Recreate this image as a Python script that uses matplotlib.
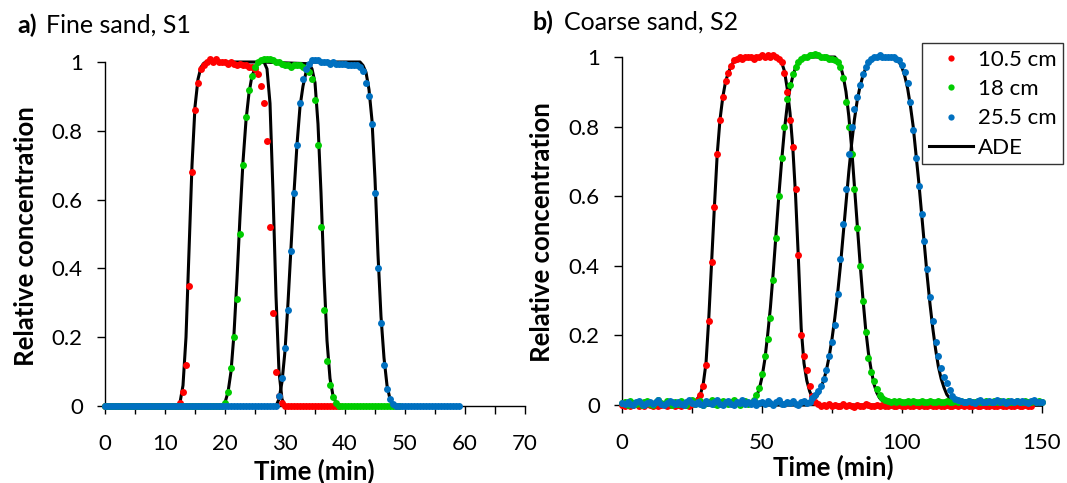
import numpy as np
import matplotlib
matplotlib.use("Agg")
import matplotlib.pyplot as plt
from matplotlib.lines import Line2D

plt.rcParams['font.family'] = ['Lato', 'DejaVu Sans']

# ---------------- data: panel a) Fine sand, S1 (sampled every 0.5 min) ----------------
step_a = 0.5
c_a_red = [0, 0, 0, 0, 0, 0, 0, 0, 0, 0, 0, 0, 0, 0, 0, 0, 0, 0, 0, 0, 0, 0, 0, 0,
           0.0, 0.01, 0.04, 0.12, 0.35, 0.68, 0.86, 0.94, 0.98, 0.99, 1.0, 1.01, 1.0, 1.01,
           1.0, 1.0, 1.0, 0.995, 1.0, 0.995, 0.99, 0.995, 0.99, 0.99, 0.985, 0.985, 0.98,
           0.965, 0.93, 0.88, 0.77, 0.52, 0.27, 0.1, 0.03, 0.01,
           0, 0, 0, 0, 0, 0, 0, 0, 0, 0, 0, 0, 0, 0, 0, 0, 0, 0, 0]

c_a_green = [0, 0, 0, 0, 0, 0, 0, 0, 0, 0, 0, 0, 0, 0, 0, 0, 0, 0, 0, 0,
             0, 0, 0, 0, 0, 0, 0, 0, 0, 0, 0, 0, 0, 0, 0, 0, 0, 0, 0, 0,
             0.01, 0.04, 0.11, 0.2, 0.31, 0.5, 0.7, 0.84, 0.92, 0.96, 0.985, 1.0, 1.005,
             1.01, 1.01, 1.01, 1.005, 1.0, 1.0, 0.995, 0.99, 0.99, 0.985, 0.99, 0.99, 0.99,
             0.985, 0.98, 0.97, 0.95, 0.89, 0.76, 0.52, 0.28, 0.13, 0.06, 0.025, 0.01,
             0, 0, 0, 0, 0, 0, 0, 0, 0, 0, 0, 0, 0, 0, 0, 0, 0, 0, 0, 0, 0]

c_a_blue = [0, 0, 0, 0, 0, 0, 0, 0, 0, 0, 0, 0, 0, 0, 0, 0, 0, 0, 0, 0,
            0, 0, 0, 0, 0, 0, 0, 0, 0, 0, 0, 0, 0, 0, 0, 0, 0, 0, 0, 0,
            0, 0, 0, 0, 0, 0, 0, 0, 0, 0, 0, 0, 0, 0, 0, 0, 0, 0,
            0.03, 0.08, 0.17, 0.28, 0.45, 0.62, 0.76, 0.88, 0.95, 0.98, 0.995, 1.005, 1.005,
            1.005, 1.0, 1.0, 1.0, 0.995, 1.0, 0.995, 0.995, 0.995, 0.995, 0.99, 0.99, 0.99,
            0.99, 0.985, 0.975, 0.94, 0.9, 0.82, 0.62, 0.4, 0.24, 0.12, 0.05, 0.02, 0.005,
            0, 0, 0, 0, 0, 0, 0, 0, 0, 0, 0, 0, 0, 0, 0, 0, 0, 0, 0, 0, 0, 0]

# ADE model curves, panel a
ade_a_red_t = [0, 12.0, 12.5, 13.0, 13.5, 14.0, 14.5, 15.0, 15.5, 16.0, 16.5, 17.0,
               26.5, 27.0, 27.5, 28.0, 28.5, 29.0, 29.5, 30.0, 39.0]
ade_a_red_c = [0, 0, 0.01, 0.06, 0.2, 0.45, 0.7, 0.87, 0.95, 0.985, 0.997, 1.0,
               1.0, 0.98, 0.88, 0.62, 0.32, 0.1, 0.02, 0, 0]
ade_a_green_t = [0, 19.5, 20.0, 20.5, 21.0, 21.5, 22.0, 22.5, 23.0, 23.5, 24.0, 24.5,
                 25.0, 25.5, 26.0, 34.0, 34.5, 35.0, 35.5, 36.0, 36.5, 37.0, 37.5,
                 38.0, 38.5, 39.0, 49.0]
ade_a_green_c = [0, 0, 0.01, 0.04, 0.1, 0.21, 0.37, 0.55, 0.71, 0.83, 0.91, 0.96,
                 0.98, 0.995, 1.0, 0.995, 0.98, 0.94, 0.82, 0.62, 0.38, 0.19, 0.08,
                 0.03, 0.01, 0, 0]
ade_a_blue_t = [0, 28.5, 29.0, 29.5, 30.0, 30.5, 31.0, 31.5, 32.0, 32.5, 33.0, 33.5,
                34.0, 34.5, 42.5, 43.0, 43.5, 44.0, 44.5, 45.0, 45.5, 46.0, 46.5,
                47.0, 47.5, 48.0, 59.0]
ade_a_blue_c = [0, 0, 0.02, 0.07, 0.16, 0.3, 0.46, 0.62, 0.76, 0.87, 0.93, 0.97,
                0.99, 1.0, 1.0, 0.99, 0.97, 0.92, 0.83, 0.66, 0.44, 0.26, 0.14,
                0.06, 0.02, 0, 0]

# ---------------- data: panel b) Coarse sand, S2 (sampled every 1 min) ----------------
step_b = 1.0
c_b_red = [0, -0.003, 0.002, -0.004, 0, 0.003, -0.002, 0, -0.004, 0.002, 0, -0.003, 0.004,
           -0.002, 0, 0.002, -0.004, 0, 0.003, -0.002, 0, -0.003, 0.002, 0, -0.002, 0.003,
           0.006, 0.015, 0.03, 0.055, 0.115, 0.24, 0.41, 0.57, 0.72, 0.82, 0.885, 0.93, 0.955,
           0.975, 0.99, 0.995, 1.0, 0.995, 1.0, 1.0, 1.0, 0.995, 1.0, 1.0, 1.005, 1.0, 1.005,
           1.0, 1.005, 1.0, 0.995, 0.985, 0.955, 0.9, 0.82, 0.74, 0.62, 0.43, 0.2, 0.14, 0.1,
           0.055, 0.025, 0.01, 0.004,
           -0.002, 0, -0.004, 0.002, -0.003, 0, -0.004, -0.002, 0.002, -0.004, 0, -0.003,
           -0.005, 0, -0.002, -0.004, 0.002, 0, -0.003, -0.004, 0, -0.002, 0.001, -0.004,
           -0.003, 0, -0.002, -0.004, 0, -0.003, -0.002, 0, -0.004, -0.002, 0.001, -0.003,
           0, -0.004, -0.002, 0, -0.003, -0.004, 0, -0.002, -0.003, 0, -0.004, -0.002, 0,
           -0.003, 0.001, -0.004, 0, -0.002, -0.003, 0, -0.004, -0.002, 0, -0.003, -0.002,
           0, -0.004, -0.003, 0, -0.002, -0.004, 0,
           -0.002, -0.004, 0, -0.003, -0.002, 0, -0.004, -0.002]

c_b_green = [0.005, 0.01, 0.0, 0.012, 0.006, 0.003, 0.01, 0.0, 0.008, 0.012, 0.004, 0.0,
             0.01, 0.014, 0.006, 0.002, 0.012, 0.008, 0.0, 0.01, 0.004, 0.012, 0.006, 0.0,
             0.01, 0.014, 0.004, 0.008, 0.012, 0.0, 0.006, 0.01, 0.014, 0.004, 0.0, 0.01,
             0.012, 0.006, 0.002, 0.01, 0.014, 0.006, 0.0, 0.008, 0.012, 0.004,
             0.005, 0.015, 0.03, 0.05, 0.09, 0.14, 0.19, 0.25, 0.36, 0.48, 0.6, 0.71, 0.8,
             0.88, 0.92, 0.95, 0.97, 0.985, 0.995, 1.0, 1.0, 1.005, 1.005, 1.01, 1.005, 1.0,
             1.0, 1.0, 0.995, 0.995, 0.99, 0.985, 0.97, 0.94, 0.87, 0.8, 0.72, 0.62, 0.51,
             0.4, 0.3, 0.21, 0.135, 0.095, 0.07, 0.045, 0.03, 0.02, 0.015,
             0.012, 0.01, 0.011, 0.009, 0.012, 0.01, 0.008, 0.011, 0.01, 0.012, 0.009, 0.01,
             0.011, 0.008, 0.01, 0.012, 0.01, 0.009, 0.011, 0.01, 0.008, 0.012, 0.01, 0.009,
             0.011, 0.01, 0.012, 0.008, 0.01, 0.011, 0.009, 0.01, 0.012, 0.01, 0.008, 0.011,
             0.01, 0.009, 0.012, 0.01, 0.011, 0.008, 0.01, 0.012, 0.009, 0.01, 0.011, 0.01,
             0.008, 0.012, 0.01, 0.009, 0.011, 0.01, 0.012, 0.01]

c_b_blue = [0.006, 0.002, 0.01, 0.004, 0.0, 0.008, 0.012, 0.004, 0.0, 0.006, 0.01, 0.002,
            0.008, 0.014, 0.004, 0.0, 0.006, 0.012, 0.008, 0.002, 0.01, 0.004, 0.0, 0.008,
            0.014, 0.006, 0.002, 0.01, 0.004, 0.0, 0.012, 0.006, 0.002, 0.01, 0.014, 0.004,
            0.0, 0.008, 0.012, 0.004, 0.0, 0.01, 0.006, 0.014, 0.002, 0.008, 0.004, 0.012,
            0.0, 0.006, 0.01, 0.004, 0.012, 0.006, 0.0, 0.008, 0.014, 0.004, 0.002, 0.01,
            0.006, 0.012, 0.004, 0.0, 0.008, 0.012, 0.006, 0.01,
            0.02, 0.03, 0.04, 0.055, 0.075, 0.1, 0.14, 0.18, 0.23, 0.32, 0.42, 0.52, 0.62,
            0.72, 0.8, 0.85, 0.885, 0.92, 0.95, 0.97, 0.985, 0.995, 1.0, 1.0, 1.005, 1.0, 1.0,
            1.0, 1.0, 1.0, 0.995, 0.99, 0.977, 0.957, 0.925, 0.87, 0.79, 0.71, 0.63, 0.55,
            0.47, 0.39, 0.31, 0.24, 0.18, 0.14, 0.105, 0.08, 0.062, 0.043, 0.025, 0.018, 0.014,
            0.012, 0.01, 0.008, 0.012, 0.01, 0.007, 0.011, 0.013, 0.009, 0.01, 0.012, 0.008,
            0.01, 0.013, 0.009, 0.011, 0.007, 0.01, 0.012, 0.009, 0.011, 0.008, 0.012, 0.01,
            0.007, 0.011, 0.013, 0.009, 0.01, 0.008]

# ADE model curves, panel b
ade_b_red_t = [0, 24, 26, 28, 29, 30, 31, 32, 33, 34, 35, 36, 37, 38, 39, 40, 41, 43,
               55, 56, 57, 58, 59, 60, 61, 62, 63, 64, 65, 66, 67, 68, 69, 71, 146]
ade_b_red_c = [0, 0, 0.008, 0.03, 0.06, 0.12, 0.25, 0.41, 0.57, 0.72, 0.82, 0.885, 0.93,
               0.955, 0.975, 0.988, 0.995, 1.0,
               1.0, 0.995, 0.985, 0.96, 0.91, 0.84, 0.74, 0.6, 0.42, 0.22, 0.12, 0.07, 0.04,
               0.02, 0.01, 0, 0]
ade_b_green_t = [0, 45, 47, 48, 49, 50, 51, 52, 53, 54, 55, 56, 57, 58, 59, 60, 61, 62,
                 63, 65, 67, 76, 77, 78, 79, 80, 81, 82, 83, 84, 85, 86, 87, 88, 89, 90,
                 91, 92, 94, 96, 150]
ade_b_green_c = [0, 0, 0.01, 0.025, 0.045, 0.08, 0.13, 0.2, 0.28, 0.38, 0.49, 0.6, 0.7,
                 0.79, 0.86, 0.91, 0.945, 0.97, 0.985, 0.997, 1.0, 1.0, 0.99, 0.975, 0.945,
                 0.9, 0.83, 0.74, 0.63, 0.52, 0.41, 0.31, 0.22, 0.15, 0.1, 0.06, 0.035, 0.02,
                 0.005, 0, 0]
ade_b_blue_t = [0, 66, 68, 70, 71, 72, 73, 74, 75, 76, 77, 78, 79, 80, 81, 82, 83, 84, 85,
                86, 87, 88, 90, 92, 97, 98, 99, 100, 101, 102, 103, 104, 105, 106, 107,
                108, 109, 110, 111, 112, 113, 114, 115, 116, 117, 118, 120, 123, 150]
ade_b_blue_c = [0, 0, 0.01, 0.03, 0.05, 0.07, 0.1, 0.14, 0.19, 0.25, 0.32, 0.4, 0.49, 0.58,
                0.67, 0.75, 0.82, 0.875, 0.915, 0.945, 0.967, 0.98, 0.995, 1.0, 1.0, 0.995,
                0.985, 0.97, 0.945, 0.91, 0.86, 0.8, 0.72, 0.64, 0.55, 0.46, 0.37, 0.29, 0.22,
                0.16, 0.11, 0.075, 0.05, 0.03, 0.02, 0.012, 0.005, 0, 0]

series_labels = ["10.5 cm", "18 cm", "25.5 cm", "ADE"]
colors = ["#FF0000", "#00CC00", "#0070C0"]

# ---------------- figure ----------------
W, H = 1067, 483
fig = plt.figure(figsize=(W / 100, H / 100), dpi=100)


def px_axes(x0, x1, ytop, ybot):
    return fig.add_axes([x0 / W, 1 - ybot / H, (x1 - x0) / W, (ybot - ytop) / H])


ax_a = px_axes(105, 525, 62, 406)
ax_b = px_axes(622, 1042, 57, 405)

FS_TICK = 16
FS_LAB = 18.5
FS_TITLE = 18
FS_LEG = 16
MS = 5.0
LW = 2.2


def style(ax, xmax, minor_step, label_step):
    ax.set_xlim(0, xmax)
    ax.set_ylim(0, 1)
    for s in ["top", "right"]:
        ax.spines[s].set_visible(False)
    for s in ["left", "bottom"]:
        ax.spines[s].set_linewidth(1.0)
        ax.spines[s].set_color("black")
        ax.spines[s].set_zorder(0.5)
    xt = np.arange(0, xmax + 0.01, minor_step)
    ax.set_xticks(xt)
    ax.set_xticklabels([f"{v:g}" if abs(v / label_step - round(v / label_step)) < 1e-9 else ""
                        for v in xt])
    ax.set_yticks([0, 0.2, 0.4, 0.6, 0.8, 1.0])
    ax.set_yticklabels(["0", "0.2", "0.4", "0.6", "0.8", "1"])
    ax.tick_params(axis="both", direction="out", length=6, width=1.0, labelsize=FS_TICK,
                   colors="black")
    ax.tick_params(axis="x", pad=14)
    ax.tick_params(axis="y", pad=10)
    ax.patch.set_alpha(0)


def draw(ax, step, dots, ades):
    for t, c in ades:
        ax.plot(t, c, color="black", lw=LW, zorder=2, clip_on=False, solid_capstyle="butt")
    for c, col in zip(dots, colors):
        t = np.arange(len(c)) * step
        ax.plot(t, c, "o", color=col, ms=MS, mew=0, zorder=3, clip_on=False)


draw(ax_a, step_a, [c_a_red, c_a_green, c_a_blue],
     [(ade_a_red_t, ade_a_red_c), (ade_a_green_t, ade_a_green_c), (ade_a_blue_t, ade_a_blue_c)])
draw(ax_b, step_b, [c_b_red, c_b_green, c_b_blue],
     [(ade_b_red_t, ade_b_red_c), (ade_b_green_t, ade_b_green_c), (ade_b_blue_t, ade_b_blue_c)])

style(ax_a, 70, 5, 10)
style(ax_b, 150, 25, 50)

# titles
fig.text(17 / W, 1 - 33 / H, "a)", fontsize=FS_TITLE, fontweight="bold", va="baseline", ha="left")
fig.text(46 / W, 1 - 33 / H, "Fine sand, S1", fontsize=FS_TITLE, va="baseline", ha="left")
fig.text(533 / W, 1 - 30 / H, "b)", fontsize=FS_TITLE, fontweight="bold", va="baseline", ha="left")
fig.text(564 / W, 1 - 30 / H, "Coarse sand, S2", fontsize=FS_TITLE, va="baseline", ha="left")

# axis labels
fig.text(26 / W, 1 - 236 / H, "Relative concentration", fontsize=FS_LAB, fontweight="bold",
         rotation=90, ha="center", va="center")
fig.text(542 / W, 1 - 232 / H, "Relative concentration", fontsize=FS_LAB, fontweight="bold",
         rotation=90, ha="center", va="center")
fig.text(314 / W, 1 - 480 / H, "Time (min)", fontsize=FS_LAB, fontweight="bold",
         ha="center", va="baseline")
fig.text(833 / W, 1 - 476 / H, "Time (min)", fontsize=FS_LAB, fontweight="bold",
         ha="center", va="baseline")

# legend
handles = [Line2D([], [], ls="none", marker="o", color=c, ms=4.5, mew=0) for c in colors]
handles.append(Line2D([], [], color="black", lw=LW))
leg = fig.legend(handles, series_labels, loc="upper right",
                 bbox_to_anchor=(1063 / W, 1 - 43 / H), bbox_transform=fig.transFigure,
                 fontsize=FS_LEG, frameon=True, fancybox=False, shadow=False,
                 handlelength=2.0, handletextpad=0.2, labelspacing=0.42,
                 borderpad=0.3, borderaxespad=0.0)
leg.get_frame().set_edgecolor("black")
leg.get_frame().set_linewidth(1.0)

fig.savefig("out.png", dpi=100)
